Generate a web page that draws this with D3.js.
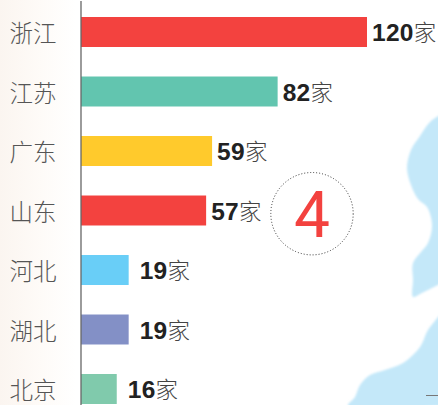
<!DOCTYPE html>
<html><head><meta charset="utf-8">
<script src="https://cdnjs.cloudflare.com/ajax/libs/d3/7.8.5/d3.min.js"></script>
<style>html,body{margin:0;padding:0;background:#fff}svg{display:block}</style></head>
<body><div id="chart"></div>
<script>
const provinces = ["浙江","江苏","广东","山东","河北","湖北","北京"];
const counts = [120,82,59,57,19,19,16];
const barLengths = [120,82.5,55,52.5,20,20,15];
const barColors = ["#f3423f","#62c5af","#ffca2c","#f3423f","#69cef7","#8390c6","#80caac"];
const unit = "家";
const rankNumber = "4";
const seaA = [[440,115],[430,122],[420,136],[411,150],[407,168],[411,185],[418,199],[427,207],[432,225],[428,243],[421,252],[413,263],[413,280],[413,297],[420,294],[430,289],[440,284]];
const seaB = [[440,315],[428,330],[420,347],[403,363],[385,370],[370,375],[360,385],[355,397],[348,406],[440,406]];

const W = 438, H = 405;
const svg = d3.select("#chart").append("svg").attr("width",W).attr("height",H);
const defs = svg.append("defs");
const g = defs.append("linearGradient").attr("id","bg");
g.append("stop").attr("offset",0).attr("stop-color","#fbf5f0");
g.append("stop").attr("offset",0.55).attr("stop-color","#fefbf8");
g.append("stop").attr("offset",1).attr("stop-color","#ffffff");
defs.append("filter").attr("id","soft").append("feGaussianBlur").attr("stdDeviation",0.8);
svg.append("rect").attr("width",76).attr("height",H).attr("fill","url(#bg)");

const line = d3.line().curve(d3.curveCatmullRom);
svg.selectAll("path.sea").data([seaA,seaB]).join("path").attr("class","sea")
  .attr("d",d=>line(d)+"Z").attr("fill","#c4e8f9").attr("filter","url(#soft)");
svg.append("line").attr("x1",426).attr("x2",438).attr("y1",395.5).attr("y2",395.5).attr("stroke","#777").attr("stroke-width",1);

const x = d3.scaleLinear().domain([0,120]).range([81,367]);
const y = d3.scaleBand().domain(provinces).range([2.25,418.75]).paddingInner(0.496).paddingOuter(0.248);

svg.selectAll("rect.bar").data(provinces).join("rect").attr("class","bar")
  .attr("x",x(0)).attr("y",d=>y(d)).attr("height",y.bandwidth())
  .attr("width",(d,i)=>x(barLengths[i])-x(0)).attr("fill",(d,i)=>barColors[i]);

const axis = svg.append("g").attr("transform","translate(81,0)").call(d3.axisLeft(y).tickSize(0).tickPadding(24.5));
axis.select(".domain").remove();
axis.selectAll("text").attr("font-family","'Noto Sans CJK SC'").attr("font-weight",300)
  .attr("font-size",23.5).attr("fill","#555").attr("dy","0.43em");
svg.append("line").attr("x1",81).attr("x2",81).attr("y1",1).attr("y2",H).attr("stroke","#666").attr("stroke-width",1.3);

const labels = svg.selectAll("text.val").data(provinces).join("text").attr("class","val")
  .attr("x",(d,i)=>x(barLengths[i])+(counts[i]<20?11:5)).attr("y",d=>y(d)+y.bandwidth()/2+9);
labels.append("tspan").text((d,i)=>counts[i]).attr("font-family","'Liberation Sans'").attr("font-weight",700).attr("font-size",24.5).attr("letter-spacing",0.3).attr("fill","#222");
labels.append("tspan").text(unit).attr("font-family","'Noto Sans CJK SC'").attr("font-weight",300).attr("font-size",22.5).attr("fill","#444");

svg.append("circle").attr("cx",312).attr("cy",213.7).attr("r",41.2).attr("fill","none").attr("stroke","#333").attr("stroke-width",1).attr("stroke-dasharray","1 2");
svg.append("text").text(rankNumber).attr("x",312).attr("y",237).attr("text-anchor","middle").attr("font-family","Roboto").attr("font-weight",400).attr("font-size",64).attr("fill","#f3423f");
</script></body></html>
